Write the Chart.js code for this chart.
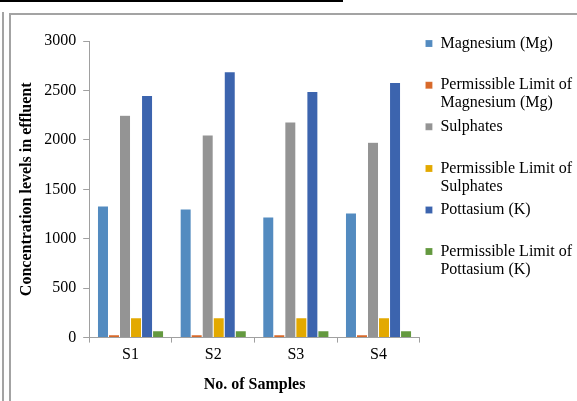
<!doctype html>
<html lang="en">
<head>
    <meta charset="utf-8">
    <title>Concentration levels in effluent</title>
    <script src="https://cdn.jsdelivr.net/npm/chart.js@4.4.1/dist/chart.umd.min.js"></script>
    <style>
        html, body { margin: 0; padding: 0; background: #fff; }
        body { width: 577px; height: 401px; position: relative; overflow: hidden; }
        #topLine { position: absolute; left: 0; top: 0; width: 343px; height: 2px; background: #000; }
        #outerLine { position: absolute; left: 2px; top: 12px; width: 2px; bottom: 0; background: #a3a3a3; }
        #box { position: absolute; left: 9px; top: 13px; right: 0; bottom: 0;
               border-left: 2px solid #a3a3a3; border-top: 2px solid #a3a3a3; }
        #myChart { position: absolute; left: 11px; top: 15px; }
    </style>
</head>
<body>
    <div id="topLine"></div>
    <div id="outerLine"></div>
    <div id="box"></div>
    <canvas id="myChart" width="566" height="386"></canvas>

<script>
    // data
    let samples = ['S1', 'S2', 'S3', 'S4'];
    let magnesium = [1330, 1300, 1220, 1260];
    let mgLimit = [30, 30, 30, 30];
    let sulphates = [2250, 2050, 2180, 1975];
    let sulLimit = [200, 200, 200, 200];
    let potassium = [2450, 2690, 2490, 2580];
    let kLimit = [70, 70, 70, 70];
    let yTicks = [0, 500, 1000, 1500, 2000, 2500, 3000];

    let serif = "'Times New Roman', 'Liberation Serif', serif";
    let axisGray = '#a0a0a0';

    Chart.defaults.font.family = serif;
    Chart.defaults.font.size = 16;
    Chart.defaults.color = '#000';

    let makeSet = (label, data, color) => ({
        label: label,
        data: data,
        backgroundColor: color,
        borderColor: 'rgba(255,255,255,0.35)',
        borderWidth: 0.5,
        barPercentage: 1.0,
        categoryPercentage: 0.8
    });

    new Chart(document.getElementById('myChart'), {
        type: 'bar',
        data: {
            labels: samples,
            datasets: [
                makeSet(['Magnesium (Mg)', ''], magnesium, '#538bc0'),
                makeSet(['Permissible Limit of', 'Magnesium (Mg)'], mgLimit, '#d8692a'),
                makeSet(['Sulphates', ''], sulphates, '#949494'),
                makeSet(['Permissible Limit of', 'Sulphates'], sulLimit, '#e3a900'),
                makeSet(['Pottasium (K)', ''], potassium, '#3c64ae'),
                makeSet(['Permissible Limit of', 'Pottasium (K)'], kLimit, '#64993f')
            ]
        },
        options: {
            responsive: false,
            animation: false,
            layout: { padding: { left: 0, right: -5, top: 15, bottom: 7 } },
            plugins: {
                tooltip: { enabled: false },
                title: {
                    display: true,
                    fullSize: false,
                    text: ' ',
                    font: { size: 1, lineHeight: 1 },
                    padding: { top: 10, bottom: 0 }
                },
                legend: {
                    position: 'right',
                    align: 'start',
                    maxWidth: 200,
                    labels: {
                        boxWidth: 7,
                        boxHeight: 7,
                        padding: 5.6,
                        color: '#000',
                        font: { family: serif, size: 16, lineHeight: 1.125 }
                    }
                }
            },
            scales: {
                x: {
                    grid: { display: true, drawOnChartArea: false, offset: true, color: axisGray, tickLength: 5 },
                    border: { color: axisGray, width: 1 },
                    ticks: { color: '#000', padding: 3, font: { family: serif, size: 16 } },
                    title: {
                        display: true,
                        text: 'No. of Samples',
                        color: '#000',
                        font: { family: serif, size: 16, weight: 'bold' },
                        padding: { top: 7, bottom: 0 }
                    }
                },
                y: {
                    min: yTicks[0],
                    max: yTicks[yTicks.length - 1],
                    grid: { display: true, drawOnChartArea: false, color: axisGray, tickLength: 6 },
                    border: { color: axisGray, width: 1 },
                    afterBuildTicks: (axis) => { axis.ticks = yTicks.map(v => ({ value: v })); },
                    ticks: {
                        color: '#000',
                        padding: 7,
                        font: { family: serif, size: 16 },
                        callback: (v) => String(v)
                    },
                    title: {
                        display: true,
                        text: 'Concentration levels in effluent',
                        color: '#000',
                        font: { family: serif, size: 16, weight: 'bold' },
                        padding: { top: 6, bottom: 1 }
                    }
                }
            }
        }
    });
</script>
</body>
</html>
